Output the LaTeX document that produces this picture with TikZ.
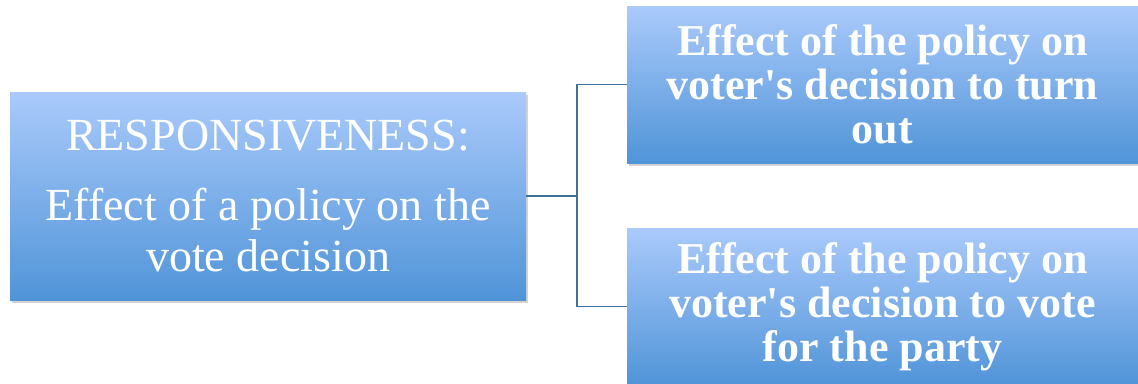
\documentclass[tikz,border=0pt]{standalone}
\usepackage{fontspec}
\setmainfont{Liberation Serif}
\usetikzlibrary{shadows,positioning}
\definecolor{boxtop}{RGB}{170,202,251}
\definecolor{boxbot}{RGB}{80,148,216}
\definecolor{linkblue}{RGB}{66,113,156}
\tikzset{
  panel/.style={rectangle, top color=boxtop, bottom color=boxbot, text=white,
    align=center, inner sep=0pt,
    drop shadow={shadow xshift=2pt, shadow yshift=-3pt, opacity=0.35}},
  leftpanel/.style={panel, minimum width=516pt, minimum height=208pt,
    font=\fontsize{46}{51}\selectfont},
  rightpanel/.style={panel, minimum width=511pt, minimum height=157pt,
    font=\bfseries\fontsize{44}{44}\selectfont},
  link/.style={draw=linkblue, line width=1.5pt}
}

\begin{document}
\begin{tikzpicture}[x=1pt,y=-1pt]
      \useasboundingbox (0,0) rectangle (1138,383);
      \node[leftpanel] (resp) at (268,196)
        {RESPONSIVENESS:\\[19pt]Effect of a policy on the\\vote decision};
      \node[rightpanel] (turnout) at (882.5,84.5)
        {Effect of the policy on\\voter\textquotesingle s decision to turn\\out};
      \node[rightpanel] (party) at (882.5,306.5)
        {Effect of the policy on\\voter\textquotesingle s decision to vote\\for the party};
      \coordinate (fork) at (577,196);
      \draw[link] (resp.east) -- (fork);
      \draw[link] (fork) |- (turnout.west);
      \draw[link] (fork) |- (party.west);
    \end{tikzpicture}
\end{document}
